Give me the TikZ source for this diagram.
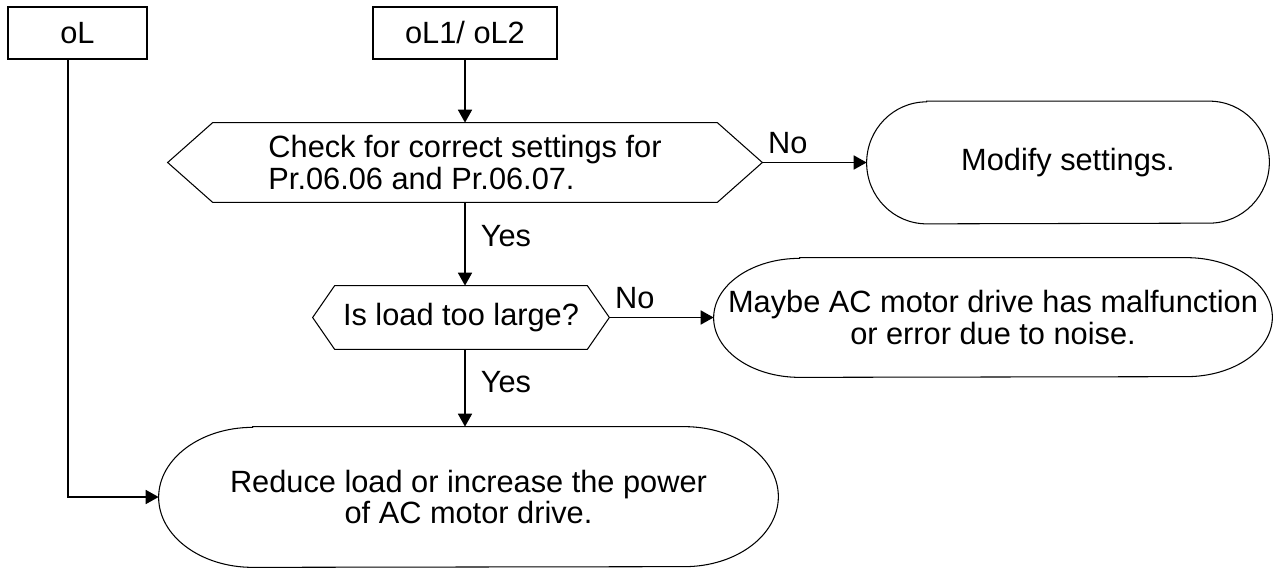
\documentclass[tikz,border=0pt]{standalone}
\usepackage{fontspec}
\setmainfont{Liberation Sans}
\usetikzlibrary{arrows.meta}

% outline of a decision node: a flat hexagon round the node box
\newcommand{\hexout}[2]{%
  \draw[rim] (#1.west) -- ([xshift=#2]#1.north west) -- ([xshift=-#2]#1.north east)
    -- (#1.east) -- ([xshift=-#2]#1.south east) -- ([xshift=#2]#1.south west) -- cycle;}
% outline of an action node: flat top and bottom, elliptic ends
\newcommand{\capout}[3]{%
  \draw[rim] ([xshift=#2]#1.north west) -- ([xshift=-#2]#1.north east)
    arc[start angle=90, end angle=-90, x radius=#2, y radius=#3]
    -- ([xshift=#2]#1.south west)
    arc[start angle=270, end angle=90, x radius=#2, y radius=#3] -- cycle;}

\begin{document}
\begin{tikzpicture}[
  x=1cm, y=1cm,
  every node/.style={font=\fontsize{17.5}{17.8}\selectfont, inner sep=0pt},
  tag/.style={draw, line width=0.8pt, minimum height=1.04cm},
  ask/.style={align=left},
  act/.style={align=center},
  rim/.style={line width=0.6pt},
  arr/.style={-{Triangle[length=2.6mm,width=2.8mm]}, line width=1pt},
  ans/.style={pos=0, anchor=base west, xshift=1mm, yshift=1.8mm},
  yes/.style={anchor=west, xshift=3mm}]

\useasboundingbox (0,0) rectangle (25.54,11.36);

% ================= the two fault codes ===================================
\node[tag, minimum width=2.78cm] (ol)   at (1.55,10.70) {oL};
\node[tag, minimum width=3.68cm] (ol12) at (9.30,10.70) {oL1/ oL2};

% ================= the checks ============================================
\node[ask, minimum width=11.88cm, minimum height=1.58cm] (chk) at (9.30,8.11)
  {Check for correct settings for\\Pr.06.06 and Pr.06.07.};
\hexout{chk}{0.90cm}
\node[ask, minimum width=5.92cm, minimum height=1.26cm] (big) at (9.22,5.01)
  {Is load too large?};
\hexout{big}{0.44cm}

% ================= the actions ===========================================
\node[act, minimum width=8.04cm, minimum height=2.44cm] (mod) at (21.36,8.11)
  {Modify settings.};
\capout{mod}{1.2cm}{1.22cm}
\node[act, minimum width=11.16cm, minimum height=2.38cm] (noise) at (19.86,5.01)
  {Maybe AC motor drive has malfunction\\or error due to noise.};
\capout{noise}{1.72cm}{1.19cm}
\node[act, minimum width=12.38cm, minimum height=2.80cm] (red) at (9.37,1.42)
  {Reduce load or increase the power\\of AC motor drive.};
\capout{red}{1.88cm}{1.40cm}

% ================= the connectors ========================================
\draw[arr] (ol12) -- (chk);
\draw[arr] (chk.east) -- node[ans] {No} (mod.west);
\draw[arr] (chk.south) -- node[yes, pos=0.40] {Yes} (chk.south |- big.north);
\draw[arr] (big.east) -- node[ans] {No} (noise.west);
\draw[arr] (chk.south |- big.south) -- node[yes, pos=0.42] {Yes} (chk.south |- red.north);
\draw[arr] ([xshift=-1.9mm]ol.south) |- (red.west);

\end{tikzpicture}
\end{document}
